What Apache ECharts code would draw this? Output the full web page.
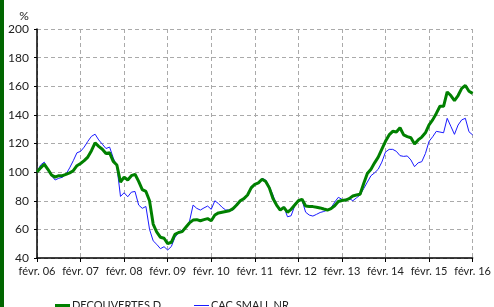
<!DOCTYPE html>
<html><head><meta charset="utf-8">
<script src="https://cdn.jsdelivr.net/npm/echarts@6/dist/echarts.min.js"></script>
<style>html,body{margin:0;padding:0;background:#fff}#c{width:494px;height:307px}</style>
</head><body><div id="c"></div>
<script>
const monthNames = ["janv.","févr.","mars","avr.","mai","juin","juil.","août","sept.","oct.","nov.","déc."];
const startYear = 2006, startMonth = 1, nMonths = 121;
const tickLabels = ["févr. 06","févr. 07","févr. 08","févr. 09","févr. 10","févr. 11","févr. 12","févr. 13","févr. 14","févr. 15","févr. 16"];
const seriesNames = ["DECOUVERTES D", "CAC SMALL NR"];
const decouvertes = [100,103,105.5,102,98,96.5,97.5,97.5,98.5,99.5,101,104.5,106,108,110.5,115,120.5,118,116,113,113.5,107.5,105,93,96.5,94.5,97.5,98.5,93.5,87.8,86.5,80,63.7,58,54.5,53.8,50,51,56.5,57.8,58.4,61.5,64.5,66.5,66.8,66,66.8,67.5,66,70,71.5,72,72.5,73,74.5,77,80,81.5,84,89,91.5,92.5,95,93.5,89,81.5,77,73.5,75.4,72,74,77,80,81,76.3,76,75.9,75.5,75,74.2,73.5,74.5,76.5,79.5,80.2,80.5,81.5,83.3,84,84.5,92,99,102,106.5,110.5,116,121.5,126,128.5,128,131,126,124.8,124,119.6,122.5,124.5,127.5,133,136.5,141,146,146,156,153.5,150,153.5,158.5,160.5,156.5,155];
const cacSmall = [100,105,107,101,97.5,94.5,95.7,96.4,98.5,103,108,113.5,114.5,117.5,121.5,125,126.5,122.5,119.5,116.5,117.5,110,104,83,85.6,82.8,86,86.5,77,74.7,76,60,52,49.5,46.5,47.9,45.6,48,54.4,57.7,59.5,61.5,65.5,77,74.7,73.5,75,76.3,74,80,78,75.4,73.5,73.5,73.5,78,79.3,81.5,84,90,91.5,92.5,95.7,94.5,90,84,77,73,75.9,68.8,69.5,76.5,80.5,80.5,72,70,69.3,70.5,71.8,72.5,73.5,75,79,82.4,81,80,81.7,80,82,84,88.5,93,97.5,99.5,102,107,114,115.9,115.9,114.5,111.5,111,111.3,108.5,103.8,106.5,107.3,113,121.5,124.7,128.5,128,127.5,137.6,132,126.4,132.9,136.5,137.6,128.2,126];

const categories = [];
for (let i = 0; i < nMonths; i++) {
  const m = (startMonth + i) % 12, y = startYear + Math.floor((startMonth + i) / 12);
  categories.push(monthNames[m] + " " + String(y % 100).padStart(2, "0"));
}
const FONT = "Lato";
const legendText = {fontFamily: FONT, fontSize: 11, color: '#222', padding: [0, 0, 0, -3]};
const chart = echarts.init(document.getElementById('c'), null, {renderer: 'canvas'});
chart.setOption({
  animation: false,
  backgroundColor: '#ffffff',
  textStyle: {fontFamily: FONT},
  graphic: [{type: 'rect', left: 0, top: 0, shape: {x: 0, y: 0, width: 4, height: 307}, style: {fill: '#006600'}}],
  grid: {left: 37, right: 11, top: 29, bottom: 49, containLabel: false},
  legend: [
    {top: 300, left: 55, padding: 0, itemWidth: 15, itemHeight: 3, icon: 'rect',
     textStyle: legendText, data: [seriesNames[0]]},
    {top: 300, left: 194, padding: 0, itemWidth: 15, itemHeight: 1, icon: 'rect',
     textStyle: legendText, data: [seriesNames[1]]}
  ],
  xAxis: {
    type: 'category', data: categories, boundaryGap: false,
    axisLine: {lineStyle: {color: '#000', width: 1.5}},
    axisTick: {interval: 11, length: 4, lineStyle: {color: '#000'}},
    axisLabel: {interval: 11, color: '#222', fontSize: 11, margin: 8,
      formatter: (v, idx) => tickLabels[Math.round(idx / 12)]},
    splitLine: {show: true, interval: 11, lineStyle: {color: '#aaa', type: [4, 3], width: 1}}
  },
  yAxis: {
    type: 'value', min: 40, max: 200, interval: 20,
    name: '%', nameLocation: 'end', nameGap: 7,
    nameTextStyle: {color: '#222', fontSize: 12, align: 'center', padding: [0, 26, 0, 0]},
    axisLine: {show: true, lineStyle: {color: '#000', width: 1.5}},
    axisTick: {show: true, length: 3, lineStyle: {color: '#000'}},
    axisLabel: {color: '#222', fontSize: 12, margin: 8},
    splitLine: {show: true, lineStyle: {color: '#aaa', type: [4, 3], width: 1}}
  },
  series: [
    {name: seriesNames[0], type: 'line', data: decouvertes, symbol: 'none', z: 3,
     lineStyle: {color: '#008000', width: 3}, itemStyle: {color: '#008000'}},
    {name: seriesNames[1], type: 'line', data: cacSmall, symbol: 'none', z: 2,
     lineStyle: {color: '#1a1aff', width: 1}, itemStyle: {color: '#1a1aff'}}
  ]
});
</script></body></html>
